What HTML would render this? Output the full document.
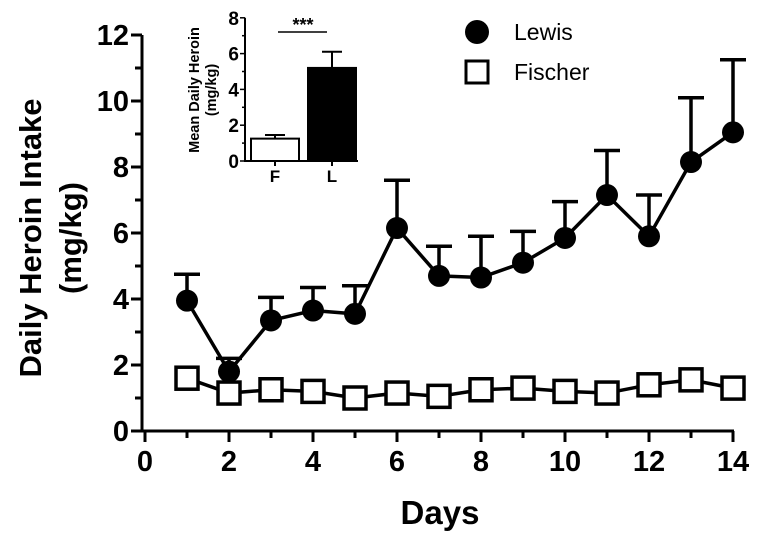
<!DOCTYPE html>
<html><head><meta charset="utf-8"><style>
html,body{margin:0;padding:0;background:#fff}
svg{display:block;font-family:"Liberation Sans",Arial,sans-serif;font-weight:bold}
</style></head><body>
<svg id="c" width="762" height="539" viewBox="0 0 762 539"></svg>
<script>
const days=[1,2,3,4,5,6,7,8,9,10,11,12,13,14];
const lewis=[3.95,1.8,3.35,3.65,3.55,6.15,4.7,4.65,5.1,5.85,7.15,5.9,8.15,9.05];
const lewisErr=[0.8,0.4,0.7,0.7,0.85,1.45,0.9,1.25,0.95,1.1,1.35,1.25,1.95,2.2];
const fischer=[1.6,1.15,1.25,1.2,1.0,1.15,1.05,1.25,1.3,1.2,1.15,1.4,1.55,1.3];
const xTicks=[0,2,4,6,8,10,12,14];
const yTicks=[0,2,4,6,8,10,12];
const insetCats=["F","L"];
const insetVals=[1.25,5.2];
const insetErr=[0.2,0.9];
const insetTicks=[0,2,4,6,8];

const NS="http://www.w3.org/2000/svg";
const svg=document.getElementById('c');
function el(t,a,p){const e=document.createElementNS(NS,t);for(const k in a)e.setAttribute(k,a[k]);(p||svg).appendChild(e);return e;}
const X=d=>145+d*42;
const Y=v=>431-v*33;
let g=el('g',{});


el('line',{x1:142,y1:Y(12),x2:142,y2:431,stroke:'#000','stroke-width':3},g);
el('line',{x1:142,y1:431,x2:X(14)+1,y2:431,stroke:'#000','stroke-width':3},g);
for(let v=0;v<=12;v++){el('line',{x1:v%2?135:131,y1:Y(v),x2:142,y2:Y(v),stroke:'#000','stroke-width':3},g);}
yTicks.forEach(v=>{const t=el('text',{x:129,y:Y(v)+10,'text-anchor':'end','font-size':29},g);t.textContent=v;
});
for(let d=0;d<=14;d++){el('line',{x1:X(d),y1:431,x2:X(d),y2:d%2?438:442,stroke:'#000','stroke-width':3},g);}
xTicks.forEach(d=>{const t=el('text',{x:X(d),y:471,'text-anchor':'middle','font-size':29},g);t.textContent=d;
});
let t=el('text',{x:440,y:524,'text-anchor':'middle','font-size':33});t.textContent='Days';

t=el('text',{transform:'translate(41,238) rotate(-90)','text-anchor':'middle','font-size':31});t.textContent='Daily Heroin Intake';

t=el('text',{transform:'translate(81,238) rotate(-90)','text-anchor':'middle','font-size':31});t.textContent='(mg/kg)';

el('polyline',{points:days.map((d,i)=>X(d)+','+Y(fischer[i])).join(' '),fill:'none',stroke:'#000','stroke-width':3.5});
days.forEach((d,i)=>{const r=el('rect',{x:X(d)-11,y:Y(fischer[i])-11,width:22,height:22,fill:'#fff',stroke:'#000','stroke-width':3.5});
});
days.forEach((d,i)=>{const top=Y(lewis[i]+lewisErr[i]);
el('line',{x1:X(d),y1:Y(lewis[i]),x2:X(d),y2:top,stroke:'#000','stroke-width':3.5});
el('line',{x1:X(d)-13,y1:top,x2:X(d)+13,y2:top,stroke:'#000','stroke-width':3.5});});
el('polyline',{points:days.map((d,i)=>X(d)+','+Y(lewis[i])).join(' '),fill:'none',stroke:'#000','stroke-width':3.5});
days.forEach((d,i)=>{const c=el('circle',{cx:X(d),cy:Y(lewis[i]),r:11,fill:'#000'});
});
const lg=el('g',{});


el('circle',{cx:477,cy:32,r:12,fill:'#000'},lg);
t=el('text',{x:514,y:40,'font-size':23},lg);t.textContent='Lewis';t.setAttribute('font-weight','normal');
el('rect',{x:466,y:61,width:22,height:22,fill:'#fff',stroke:'#000','stroke-width':3},lg);
t=el('text',{x:514,y:80,'font-size':23},lg);t.textContent='Fischer';t.setAttribute('font-weight','normal');
const IY=v=>161-v*17.9;
const ig=el('g',{});


const bx=[251,308];
insetCats.forEach((c,i)=>{
el('line',{x1:bx[i]+24,y1:IY(insetVals[i]),x2:bx[i]+24,y2:IY(insetVals[i]+insetErr[i]),stroke:'#000','stroke-width':2},ig);
el('line',{x1:bx[i]+14,y1:IY(insetVals[i]+insetErr[i]),x2:bx[i]+34,y2:IY(insetVals[i]+insetErr[i]),stroke:'#000','stroke-width':2},ig);
const r=el('rect',{x:bx[i],y:IY(insetVals[i]),width:48,height:161-IY(insetVals[i]),fill:i?'#000':'#fff',stroke:'#000','stroke-width':2},ig);

const tt=el('text',{x:bx[i]+24,y:182,'text-anchor':'middle','font-size':17},ig);tt.textContent=c;
});
el('line',{x1:245,y1:IY(8),x2:245,y2:162,stroke:'#000','stroke-width':2},ig);
el('line',{x1:244,y1:161,x2:358,y2:161,stroke:'#000','stroke-width':2},ig);
for(let v=0;v<=8;v++)el('line',{x1:v%2?242:240,y1:IY(v),x2:245,y2:IY(v),stroke:'#000','stroke-width':1.5},ig);
insetTicks.forEach(v=>{const tt=el('text',{x:239,y:IY(v)+7,'text-anchor':'end','font-size':19},ig);tt.textContent=v;});
[275,332].forEach(x=>el('line',{x1:x,y1:161,x2:x,y2:166,stroke:'#000','stroke-width':2},ig));
el('line',{x1:278,y1:32,x2:327,y2:32,stroke:'#000','stroke-width':1.5},ig);
t=el('text',{x:303,y:31,'text-anchor':'middle','font-size':18},ig);t.textContent='***';
t=el('text',{transform:'translate(199,90) rotate(-90)','text-anchor':'middle','font-size':14.5},ig);t.textContent='Mean Daily Heroin';
t=el('text',{transform:'translate(216,90) rotate(-90)','text-anchor':'middle','font-size':14.5},ig);t.textContent='(mg/kg)';
</script>
</body></html>
